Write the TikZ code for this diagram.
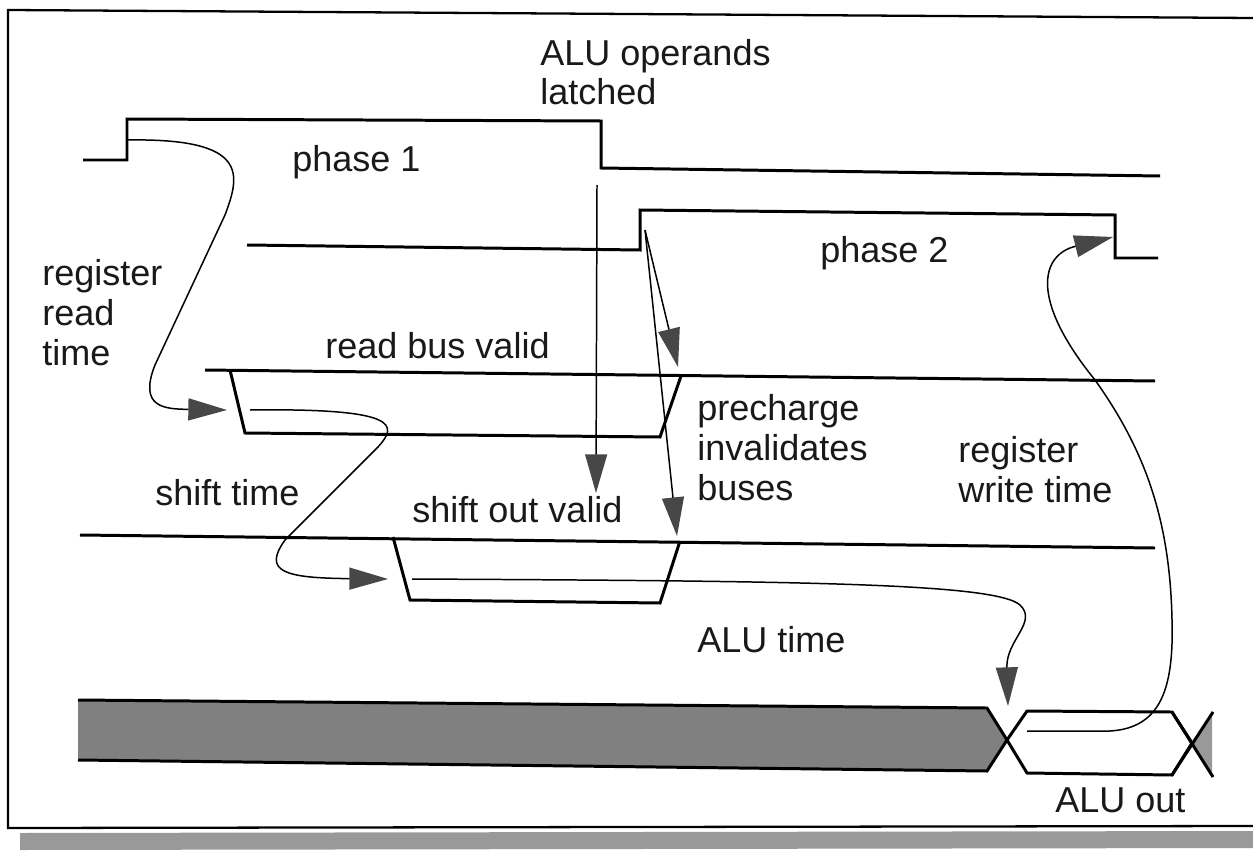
\documentclass[tikz,border=0pt]{standalone}
\usepackage{fontspec}
\setmainfont{Liberation Sans}
\usetikzlibrary{arrows.meta}

\begin{document}
\begin{tikzpicture}[x=0.02cm,y=-0.02cm,
	sig/.style={line width=1.7pt,line join=miter},
	flow/.style={line width=0.85pt,-{Triangle[length=22pt,width=12.5pt,color=black!72]}},
	lbl/.style={font=\fontsize{20.5}{22.7}\selectfont,inner sep=0pt,align=left,anchor=base west,text=black!90}]
				\useasboundingbox (0,0) rectangle (1253,858);
				% frame and its shadow
				\fill[black!40] (20,833) -- (1253,831) -- (1253,848) -- (20,850) -- cycle;
				\draw[line width=1.3pt] (1253,18) -- (8,10) -- (8,828) -- (1253,826);
				% phase 1 and phase 2
				\draw[sig] (83,160) -- (127,160) -- (127,119) -- (601,121) -- (601,168) -- (1160,176);
				\draw[sig] (247,245) -- (640,250) -- (640,210) -- (1115,215) -- (1115,258) -- (1158,258);
				% read bus
				\draw[sig] (205,370) -- (1155,381);
				\draw[sig] (230,370) -- (245,433) -- (660,437) -- (681,376);
				% shift out
				\draw[sig] (80,535) -- (1155,548);
				\draw[sig] (393,537) -- (410,600) -- (660,603) -- (680,541);
				% ALU bus
				\fill[black!50] (78,700) -- (987,708) -- (1007,740) -- (987,771) -- (78,760) -- cycle;
				\draw[sig] (78,700) -- (987,708) -- (1007,740) -- (987,771) -- (78,760);
				\draw[sig] (1007,740) -- (1027,711) -- (1172,712) -- (1192,743) -- (1172,775) -- (1027,773) -- cycle;
				\fill[black!40] (1192,743) -- (1212,713) -- (1212,775) -- cycle;
				\draw[sig] (1172,712) -- (1213,777);
				\draw[sig] (1213,712) -- (1172,775);
				% ends of the arrows
				\coordinate (rdFrom) at (128,140);
				\coordinate (rdTo) at (227,410);
				\coordinate (shFrom) at (250,410);
				\coordinate (shTo) at (388,579);
				\coordinate (alFrom) at (412,579);
				\coordinate (alTo) at (1008,706);
				\coordinate (wrFrom) at (1027,731);
				\coordinate (wrTo) at (1113,237);
				\coordinate (opFrom) at (597,185);
				\coordinate (opTo) at (596,493);
				\coordinate (pcFrom) at (645,230);
				\coordinate (pcRead) at (678,367);
				\coordinate (pcShift) at (677,536);
				% timing arrows
				\draw[flow] (rdFrom) .. controls (250,138) and (240,175) .. (225,215) -- (155,365) .. controls (138,408) and (165,409) .. (rdTo);
				\draw[flow] (shFrom) .. controls (400,408) and (398,425) .. (378,447) -- (285,540) .. controls (262,572) and (285,578) .. (shTo);
				\draw[flow] (alFrom) .. controls (800,581) and (995,583) .. (1020,605) .. controls (1038,622) and (1006,640) .. (alTo);
				\draw[flow] (wrFrom) -- (1110,731) .. controls (1160,728) and (1174,690) .. (1172,620) .. controls (1170,520) and (1145,450) .. (1095,380) .. controls (1030,300) and (1040,255) .. (wrTo);
				\draw[flow] (opFrom) -- (opTo);
				\draw[flow] (pcFrom) -- (pcRead);
				\draw[flow] (pcFrom) -- (pcShift);
				% labels (multi-line ones sit on their last baseline)
				\node[lbl] (opLbl) at (540,105) {ALU operands\\latched};
				\node[lbl] (ph1) at (292,172) {phase 1};
				\node[lbl] (ph2) at (820,262) {phase 2};
				\node[lbl] (rdLbl) at (42,365) {register\\read\\time};
				\node[lbl] (busLbl) at (325,358) {read bus valid};
				\node[lbl] (pcLbl) at (697,500) {precharge\\invalidates\\buses};
				\node[lbl] (wrLbl) at (958,502) {register\\write time};
				\node[lbl] (shLbl) at (155,505) {shift time};
				\node[lbl] (soLbl) at (412,522) {shift out valid};
				\node[lbl] (alLbl) at (697,652) {ALU time};
				\node[lbl] (outLbl) at (1055,812) {ALU out};
			\end{tikzpicture}
\end{document}
